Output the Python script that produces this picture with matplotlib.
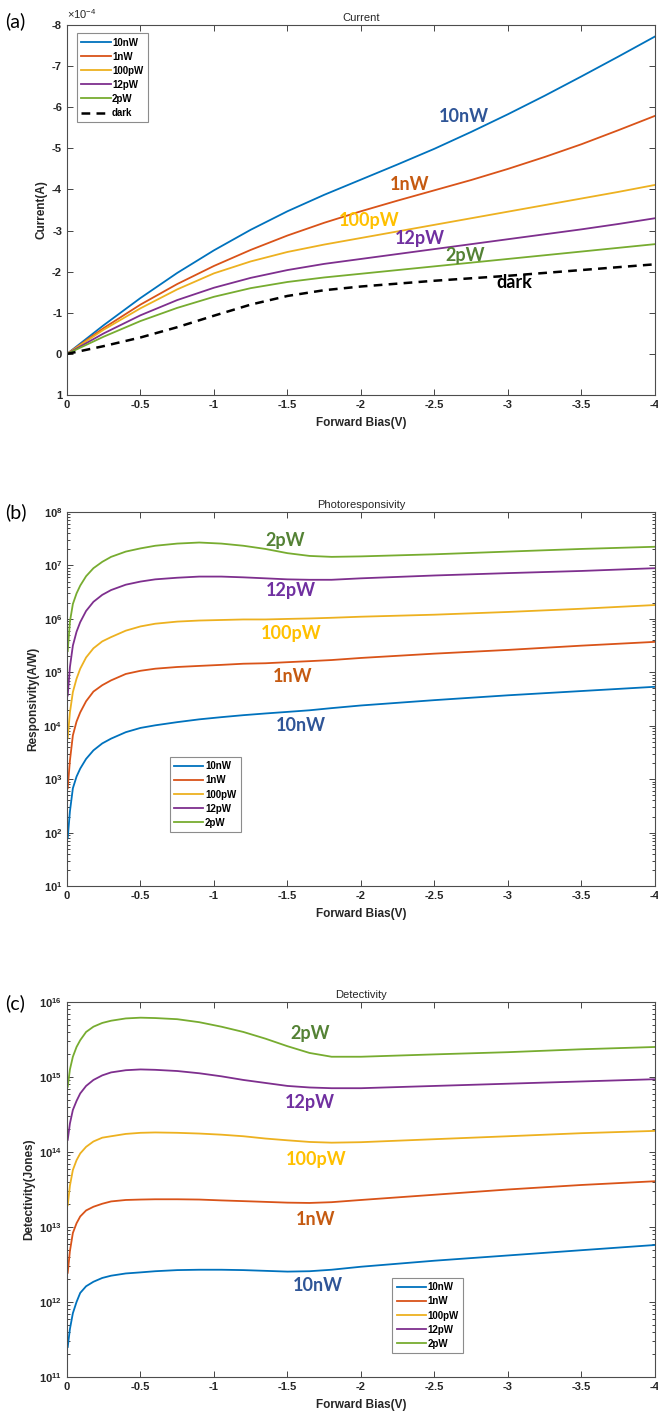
import math
import matplotlib
matplotlib.use("Agg")
import matplotlib.pyplot as plt
from matplotlib.ticker import LogLocator, FixedLocator, FuncFormatter

plt.rcParams['font.family'] = ['Liberation Sans', 'DejaVu Sans']
plt.rcParams['axes.unicode_minus'] = False
plt.rcParams['mathtext.fontset'] = 'custom'
plt.rcParams['mathtext.rm'] = 'Liberation Sans'
plt.rcParams['mathtext.bf'] = 'Liberation Sans:bold'

powers = ['10nW', '1nW', '100pW', '12pW', '2pW']
line_colors = ['#0072BD', '#D95319', '#EDB120', '#7E2F8E', '#77AC30']
text_colors = ['#2F5597', '#C55A11', '#FFC000', '#7030A0', '#548235']

# (a) current vs bias, in A
bias_iv = [0, -0.25, -0.5, -0.75, -1, -1.25, -1.5, -1.75, -2, -2.25, -2.5, -2.75, -3, -3.25, -3.5, -3.75, -4]
cur_10nW = [0, -0.70e-4, -1.36e-4, -1.97e-4, -2.52e-4, -3.02e-4, -3.47e-4, -3.87e-4, -4.24e-4,
            -4.61e-4, -4.99e-4, -5.40e-4, -5.83e-4, -6.28e-4, -6.75e-4, -7.23e-4, -7.72e-4]
cur_1nW = [0, -0.63e-4, -1.2e-4, -1.7e-4, -2.14e-4, -2.53e-4, -2.88e-4, -3.19e-4, -3.47e-4,
           -3.73e-4, -3.98e-4, -4.23e-4, -4.5e-4, -4.79e-4, -5.1e-4, -5.44e-4, -5.79e-4]
cur_100pW = [0, -0.59e-4, -1.11e-4, -1.57e-4, -1.96e-4, -2.25e-4, -2.48e-4, -2.66e-4, -2.82e-4,
             -2.98e-4, -3.14e-4, -3.3e-4, -3.46e-4, -3.62e-4, -3.78e-4, -3.94e-4, -4.11e-4]
cur_12pW = [0, -0.5e-4, -0.94e-4, -1.31e-4, -1.61e-4, -1.85e-4, -2.04e-4, -2.19e-4, -2.31e-4,
            -2.43e-4, -2.55e-4, -2.67e-4, -2.79e-4, -2.91e-4, -3.03e-4, -3.16e-4, -3.3e-4]
cur_2pW = [0, -0.42e-4, -0.8e-4, -1.12e-4, -1.39e-4, -1.6e-4, -1.75e-4, -1.86e-4, -1.95e-4,
           -2.04e-4, -2.13e-4, -2.22e-4, -2.31e-4, -2.4e-4, -2.49e-4, -2.58e-4, -2.67e-4]
cur_dark = [0, -0.19e-4, -0.4e-4, -0.65e-4, -0.93e-4, -1.2e-4, -1.41e-4, -1.55e-4, -1.64e-4,
            -1.71e-4, -1.78e-4, -1.84e-4, -1.9e-4, -1.97e-4, -2.04e-4, -2.11e-4, -2.18e-4]

# bias points shared by responsivity and detectivity
bias_rd = [-0.005, -0.02, -0.04, -0.065, -0.09, -0.13, -0.18, -0.24, -0.3, -0.4, -0.5, -0.6, -0.75,
           -0.9, -1.05, -1.2, -1.35, -1.5, -1.65, -1.8, -2, -2.5, -3, -3.5, -4]

# (b) responsivity, A/W
resp_10nW = [79, 251, 676, 1.12e3, 1.58e3, 2.4e3, 3.47e3, 4.68e3, 5.75e3, 7.59e3, 9.12e3, 1.02e4, 1.17e4,
             1.32e4, 1.45e4, 1.58e4, 1.7e4, 1.82e4, 1.95e4, 2.14e4, 2.4e4, 3.02e4, 3.72e4, 4.47e4, 5.37e4]
resp_1nW = [6.8e2, 2.24e3, 6.6e3, 1.2e4, 1.78e4, 2.88e4, 4.37e4, 5.75e4, 7.08e4, 9.33e4, 1.07e5, 1.17e5, 1.26e5,
            1.32e5, 1.38e5, 1.45e5, 1.48e5, 1.55e5, 1.62e5, 1.7e5, 1.86e5, 2.24e5, 2.63e5, 3.16e5, 3.72e5]
resp_100pW = [5.9e3, 1.78e4, 4.27e4, 7.6e4, 1.17e5, 1.9e5, 2.82e5, 3.8e5, 4.57e5, 6.03e5, 7.24e5, 8.13e5, 8.91e5,
              9.33e5, 9.55e5, 9.77e5, 9.77e5, 1.0e6, 1.02e6, 1.05e6, 1.1e6, 1.2e6, 1.35e6, 1.55e6, 1.82e6]
resp_12pW = [3.7e4, 1.26e5, 3.16e5, 5.75e5, 8.7e5, 1.41e6, 2.09e6, 2.82e6, 3.47e6, 4.37e6, 5.0e6, 5.5e6, 5.9e6,
             6.2e6, 6.2e6, 6.0e6, 5.75e6, 5.5e6, 5.4e6, 5.4e6, 5.75e6, 6.5e6, 7.2e6, 7.9e6, 8.9e6]
resp_2pW = [2.5e5, 8.9e5, 1.9e6, 3.0e6, 4.2e6, 6.3e6, 8.9e6, 1.17e7, 1.45e7, 1.82e7, 2.09e7, 2.34e7, 2.57e7,
            2.69e7, 2.57e7, 2.34e7, 2.04e7, 1.7e7, 1.51e7, 1.45e7, 1.48e7, 1.62e7, 1.82e7, 2.04e7, 2.24e7]

# (c) detectivity, Jones
det_10nW = [2.51e11, 4.37e11, 7.08e11, 1.0e12, 1.32e12, 1.62e12, 1.86e12, 2.09e12, 2.24e12, 2.4e12, 2.48e12,
            2.57e12, 2.66e12, 2.69e12, 2.69e12, 2.66e12, 2.6e12, 2.54e12, 2.57e12, 2.69e12, 2.95e12, 3.55e12,
            4.17e12, 4.9e12, 5.75e12]
det_1nW = [2.45e12, 4.79e12, 8.32e12, 1.12e13, 1.38e13, 1.66e13, 1.86e13, 2.04e13, 2.19e13, 2.29e13, 2.32e13,
           2.34e13, 2.34e13, 2.32e13, 2.26e13, 2.21e13, 2.16e13, 2.11e13, 2.09e13, 2.14e13, 2.29e13, 2.69e13,
           3.16e13, 3.63e13, 4.07e13]
det_100pW = [1.95e13, 3.55e13, 5.75e13, 7.76e13, 9.55e13, 1.17e14, 1.38e14, 1.55e14, 1.62e14, 1.74e14, 1.8e14,
             1.82e14, 1.8e14, 1.76e14, 1.7e14, 1.62e14, 1.51e14, 1.43e14, 1.36e14, 1.33e14, 1.35e14, 1.48e14,
             1.62e14, 1.78e14, 1.91e14]
det_12pW = [1.45e14, 2.4e14, 3.63e14, 4.79e14, 6.03e14, 7.59e14, 9.12e14, 1.05e15, 1.15e15, 1.23e15, 1.26e15,
            1.245e15, 1.2e15, 1.12e15, 1.02e15, 9.12e14, 8.32e14, 7.59e14, 7.24e14, 7.08e14, 7.08e14, 7.59e14,
            8.13e14, 8.71e14, 9.33e14]
det_2pW = [7.4e14, 1.26e15, 1.86e15, 2.51e15, 3.09e15, 3.98e15, 4.68e15, 5.25e15, 5.62e15, 6.03e15, 6.17e15,
           6.1e15, 5.89e15, 5.37e15, 4.68e15, 3.98e15, 3.24e15, 2.57e15, 2.09e15, 1.86e15, 1.86e15, 2.0e15,
           2.14e15, 2.34e15, 2.51e15]

bias_ticks = [0, -0.5, -1, -1.5, -2, -2.5, -3, -3.5, -4]
bias_ticklabels = ['0', '-0.5', '-1', '-1.5', '-2', '-2.5', '-3', '-3.5', '-4']
current_ticks = [-8e-4, -7e-4, -6e-4, -5e-4, -4e-4, -3e-4, -2e-4, -1e-4, 0, 1e-4]

fig = plt.figure(figsize=(6.58, 14.2), dpi=100)


def style_axes(ax, title, ylabel):
    ax.set_xlim(0, -4)
    ax.xaxis.set_major_locator(FixedLocator(bias_ticks))
    ax.set_xticklabels(bias_ticklabels)
    for s in ax.spines.values():
        s.set_color('#4d4d4d')
        s.set_linewidth(0.8)
    ax.tick_params(which='both', direction='in', top=True, right=True,
                   colors='#262626', labelsize=8, width=0.6)
    ax.tick_params(which='major', length=4)
    ax.tick_params(which='minor', length=2)
    for lab in ax.get_xticklabels() + ax.get_yticklabels():
        lab.set_fontweight('bold')
    ax.set_title(title, fontsize=8, color='#262626', pad=3)
    ax.set_xlabel('Forward Bias(V)', fontsize=8.5, fontweight='bold', color='#262626', labelpad=5)
    ax.set_ylabel(ylabel, fontsize=8.5, fontweight='bold', color='#262626', labelpad=3)


def legend(ax, anchor):
    leg = ax.legend(loc='upper left', bbox_to_anchor=anchor,
                    prop={'weight': 'bold', 'size': 7}, handlelength=3.0,
                    handletextpad=0.15, labelspacing=0.42, borderpad=0.45,
                    fancybox=False, framealpha=1, borderaxespad=0)
    leg.get_frame().set_edgecolor('#8c8c8c')
    leg.get_frame().set_linewidth(0.8)


def log_fmt(v, pos):
    return r'$\mathbf{10^{%d}}$' % round(math.log10(v))


def tag_curves(ax, spots, names, colors):
    for (px, py), t, c in zip(spots, names, colors):
        ax.text(px, py, t, transform=ax.transAxes, color=c, fontsize=13,
                fontweight='bold', family='Lato', ha='center', va='center')


# --- (a) Current
ax1 = fig.add_axes([0.1018, 0.7218, 0.8936, 0.2606])
curr = [cur_10nW, cur_1nW, cur_100pW, cur_12pW, cur_2pW]
for y, c, lab in zip(curr, line_colors, powers):
    ax1.plot(bias_iv, y, color=c, lw=1.3, label=lab)
ax1.plot(bias_iv, cur_dark, color='black', lw=1.8, ls=(0, (3.5, 2.5)), label='dark')
ax1.set_ylim(1e-4, -8e-4)
ax1.yaxis.set_major_locator(FixedLocator(current_ticks))
ax1.yaxis.set_major_formatter(FuncFormatter(lambda v, p: '%d' % round(v * 1e4)))
style_axes(ax1, 'Current', 'Current(A)')
ax1.text(0.0, 1.012, r'$\times\mathregular{10^{-4}}$', transform=ax1.transAxes,
         fontsize=8, color='#262626', ha='left', va='bottom')
legend(ax1, (0.017, 0.978))
tag_curves(ax1, [(0.675, 0.754), (0.583, 0.570), (0.514, 0.473), (0.600, 0.424), (0.677, 0.378),
                 (0.760, 0.303)], powers + ['dark'], text_colors + ['black'])

# --- (b) Photoresponsivity
ax2 = fig.add_axes([0.1018, 0.376, 0.8936, 0.2634])
resp = [resp_10nW, resp_1nW, resp_100pW, resp_12pW, resp_2pW]
for y, c, lab in zip(resp, line_colors, powers):
    ax2.plot(bias_rd, y, color=c, lw=1.3, label=lab)
ax2.set_yscale('log')
ax2.set_ylim(1e1, 1e8)
ax2.yaxis.set_major_locator(LogLocator(base=10, numticks=20))
ax2.yaxis.set_minor_locator(LogLocator(base=10, subs=range(2, 10), numticks=20))
ax2.yaxis.set_major_formatter(FuncFormatter(log_fmt))
style_axes(ax2, 'Photoresponsivity', 'Responsivity(A/W)')
legend(ax2, (0.175, 0.345))
tag_curves(ax2, [(0.398, 0.430), (0.384, 0.559), (0.381, 0.676), (0.381, 0.789), (0.371, 0.925)],
           powers, text_colors)

# --- (c) Detectivity
ax3 = fig.add_axes([0.1018, 0.0303, 0.8936, 0.2641])
det = [det_10nW, det_1nW, det_100pW, det_12pW, det_2pW]
for y, c, lab in zip(det, line_colors, powers):
    ax3.plot(bias_rd, y, color=c, lw=1.3, label=lab)
ax3.set_yscale('log')
ax3.set_ylim(1e11, 1e16)
ax3.yaxis.set_major_locator(LogLocator(base=10, numticks=20))
ax3.yaxis.set_minor_locator(LogLocator(base=10, subs=range(2, 10), numticks=20))
ax3.yaxis.set_major_formatter(FuncFormatter(log_fmt))
style_axes(ax3, 'Detectivity', 'Detectivity(Jones)')
legend(ax3, (0.553, 0.264))
tag_curves(ax3, [(0.427, 0.243), (0.422, 0.421), (0.423, 0.579), (0.413, 0.731), (0.413, 0.917)],
           powers, text_colors)

# panel tags
for t, yy in [('(a)', 0.985), ('(b)', 0.6395), ('(c)', 0.2935)]:
    fig.text(0.008, yy, t, fontsize=14, family='Lato', ha='left', va='center')

fig.savefig('out.png', dpi=100)
